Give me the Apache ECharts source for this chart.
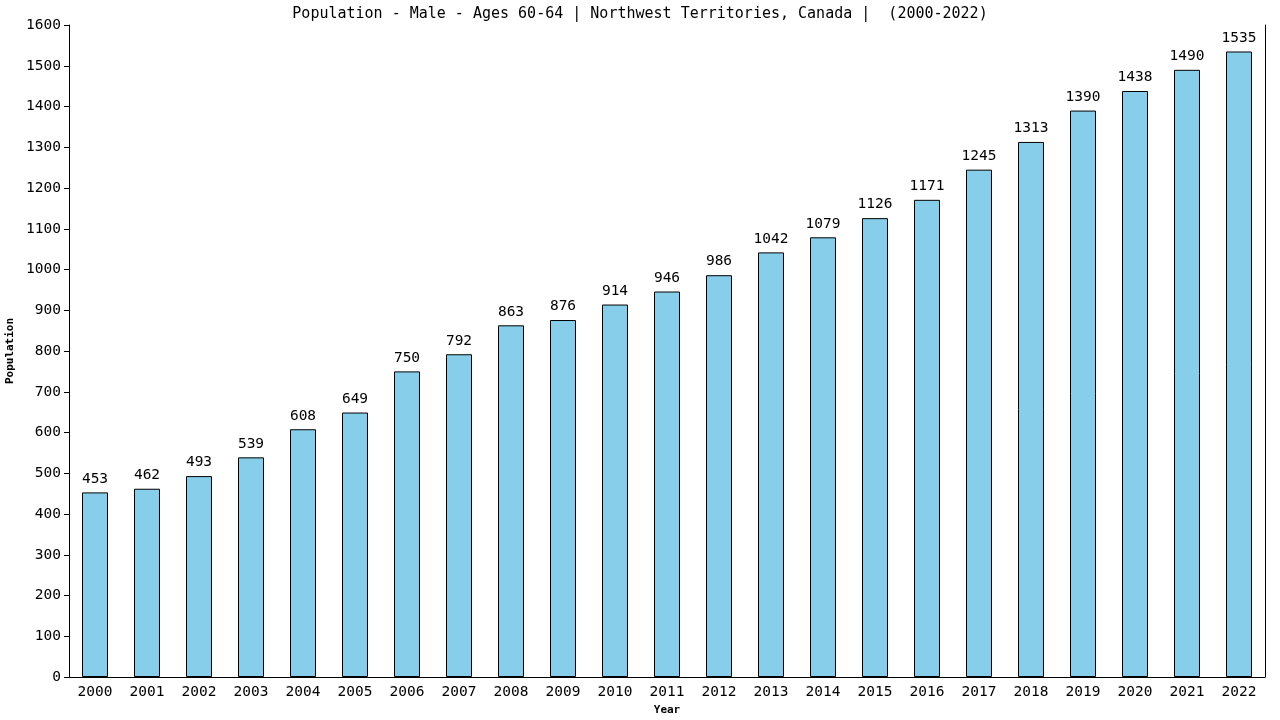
<!DOCTYPE html>
<html>
<head>
<meta charset="utf-8">
<script src="https://cdn.jsdelivr.net/npm/echarts@6/dist/echarts.min.js"></script>
<style>
  html, body { margin: 0; padding: 0; background: #fff; }
  #wrap { width: 1280px; height: 720px; }
</style>
</head>
<body>
<div id="wrap"></div>
<script>
var years = ['2000', '2001', '2002', '2003', '2004', '2005', '2006', '2007', '2008', '2009', '2010', '2011',
  '2012', '2013', '2014', '2015', '2016', '2017', '2018', '2019', '2020', '2021', '2022'];
var population = [453, 462, 493, 539, 608, 649, 750, 792, 863, 876, 914, 946,
  986, 1042, 1079, 1126, 1171, 1245, 1313, 1390, 1438, 1490, 1535];

var font = 'DejaVu Sans Mono';

var myChart = echarts.init(document.getElementById('wrap'));

var option = {
  animation: false,
  title: {
    text: 'Population - Male - Ages 60-64 | Northwest Territories, Canada |  (2000-2022)',
    left: 'center',
    top: 2,
    textStyle: { fontFamily: font, fontSize: 15, fontWeight: 'normal', color: '#000' }
  },
  grid: { left: 69, right: 15, top: 25, bottom: 43, outerBoundsMode: 'none', containLabel: false },
  xAxis: {
    type: 'category',
    data: years,
    name: 'Year',
    nameLocation: 'middle',
    nameGap: 27,
    nameTextStyle: { fontFamily: font, fontSize: 11, fontWeight: 'bold', color: '#000' },
    axisLine: { lineStyle: { color: '#000', width: 1 } },
    axisTick: { show: false },
    axisLabel: { fontFamily: font, fontSize: 14.5, color: '#000', margin: 8 }
  },
  yAxis: [{
    type: 'value',
    min: 0,
    max: 1600,
    interval: 100,
    name: 'Population',
    nameLocation: 'middle',
    nameGap: 50,
    nameTextStyle: { fontFamily: font, fontSize: 11, fontWeight: 'bold', color: '#000' },
    axisLine: { show: true, lineStyle: { color: '#000', width: 1 } },
    axisTick: { show: true, length: 5, lineStyle: { color: '#000' } },
    axisLabel: {
      fontFamily: font, fontSize: 14.5, color: '#000', margin: 8,
      formatter: function (v) { return String(v); }
    },
    splitLine: { show: false }
  }, {
    type: 'value',
    min: 0,
    max: 1600,
    position: 'right',
    axisLine: { show: true, lineStyle: { color: '#000', width: 1 } },
    axisTick: { show: false },
    axisLabel: { show: false },
    splitLine: { show: false }
  }],
  series: [{
    type: 'bar',
    data: population,
    barWidth: '50%',
    itemStyle: { color: '#87CEEB', borderColor: '#000', borderWidth: 1 },
    label: {
      show: true,
      position: 'top',
      distance: 6,
      fontFamily: font,
      fontSize: 14.5,
      color: '#000'
    }
  }]
};

myChart.setOption(option);
</script>
</body>
</html>
